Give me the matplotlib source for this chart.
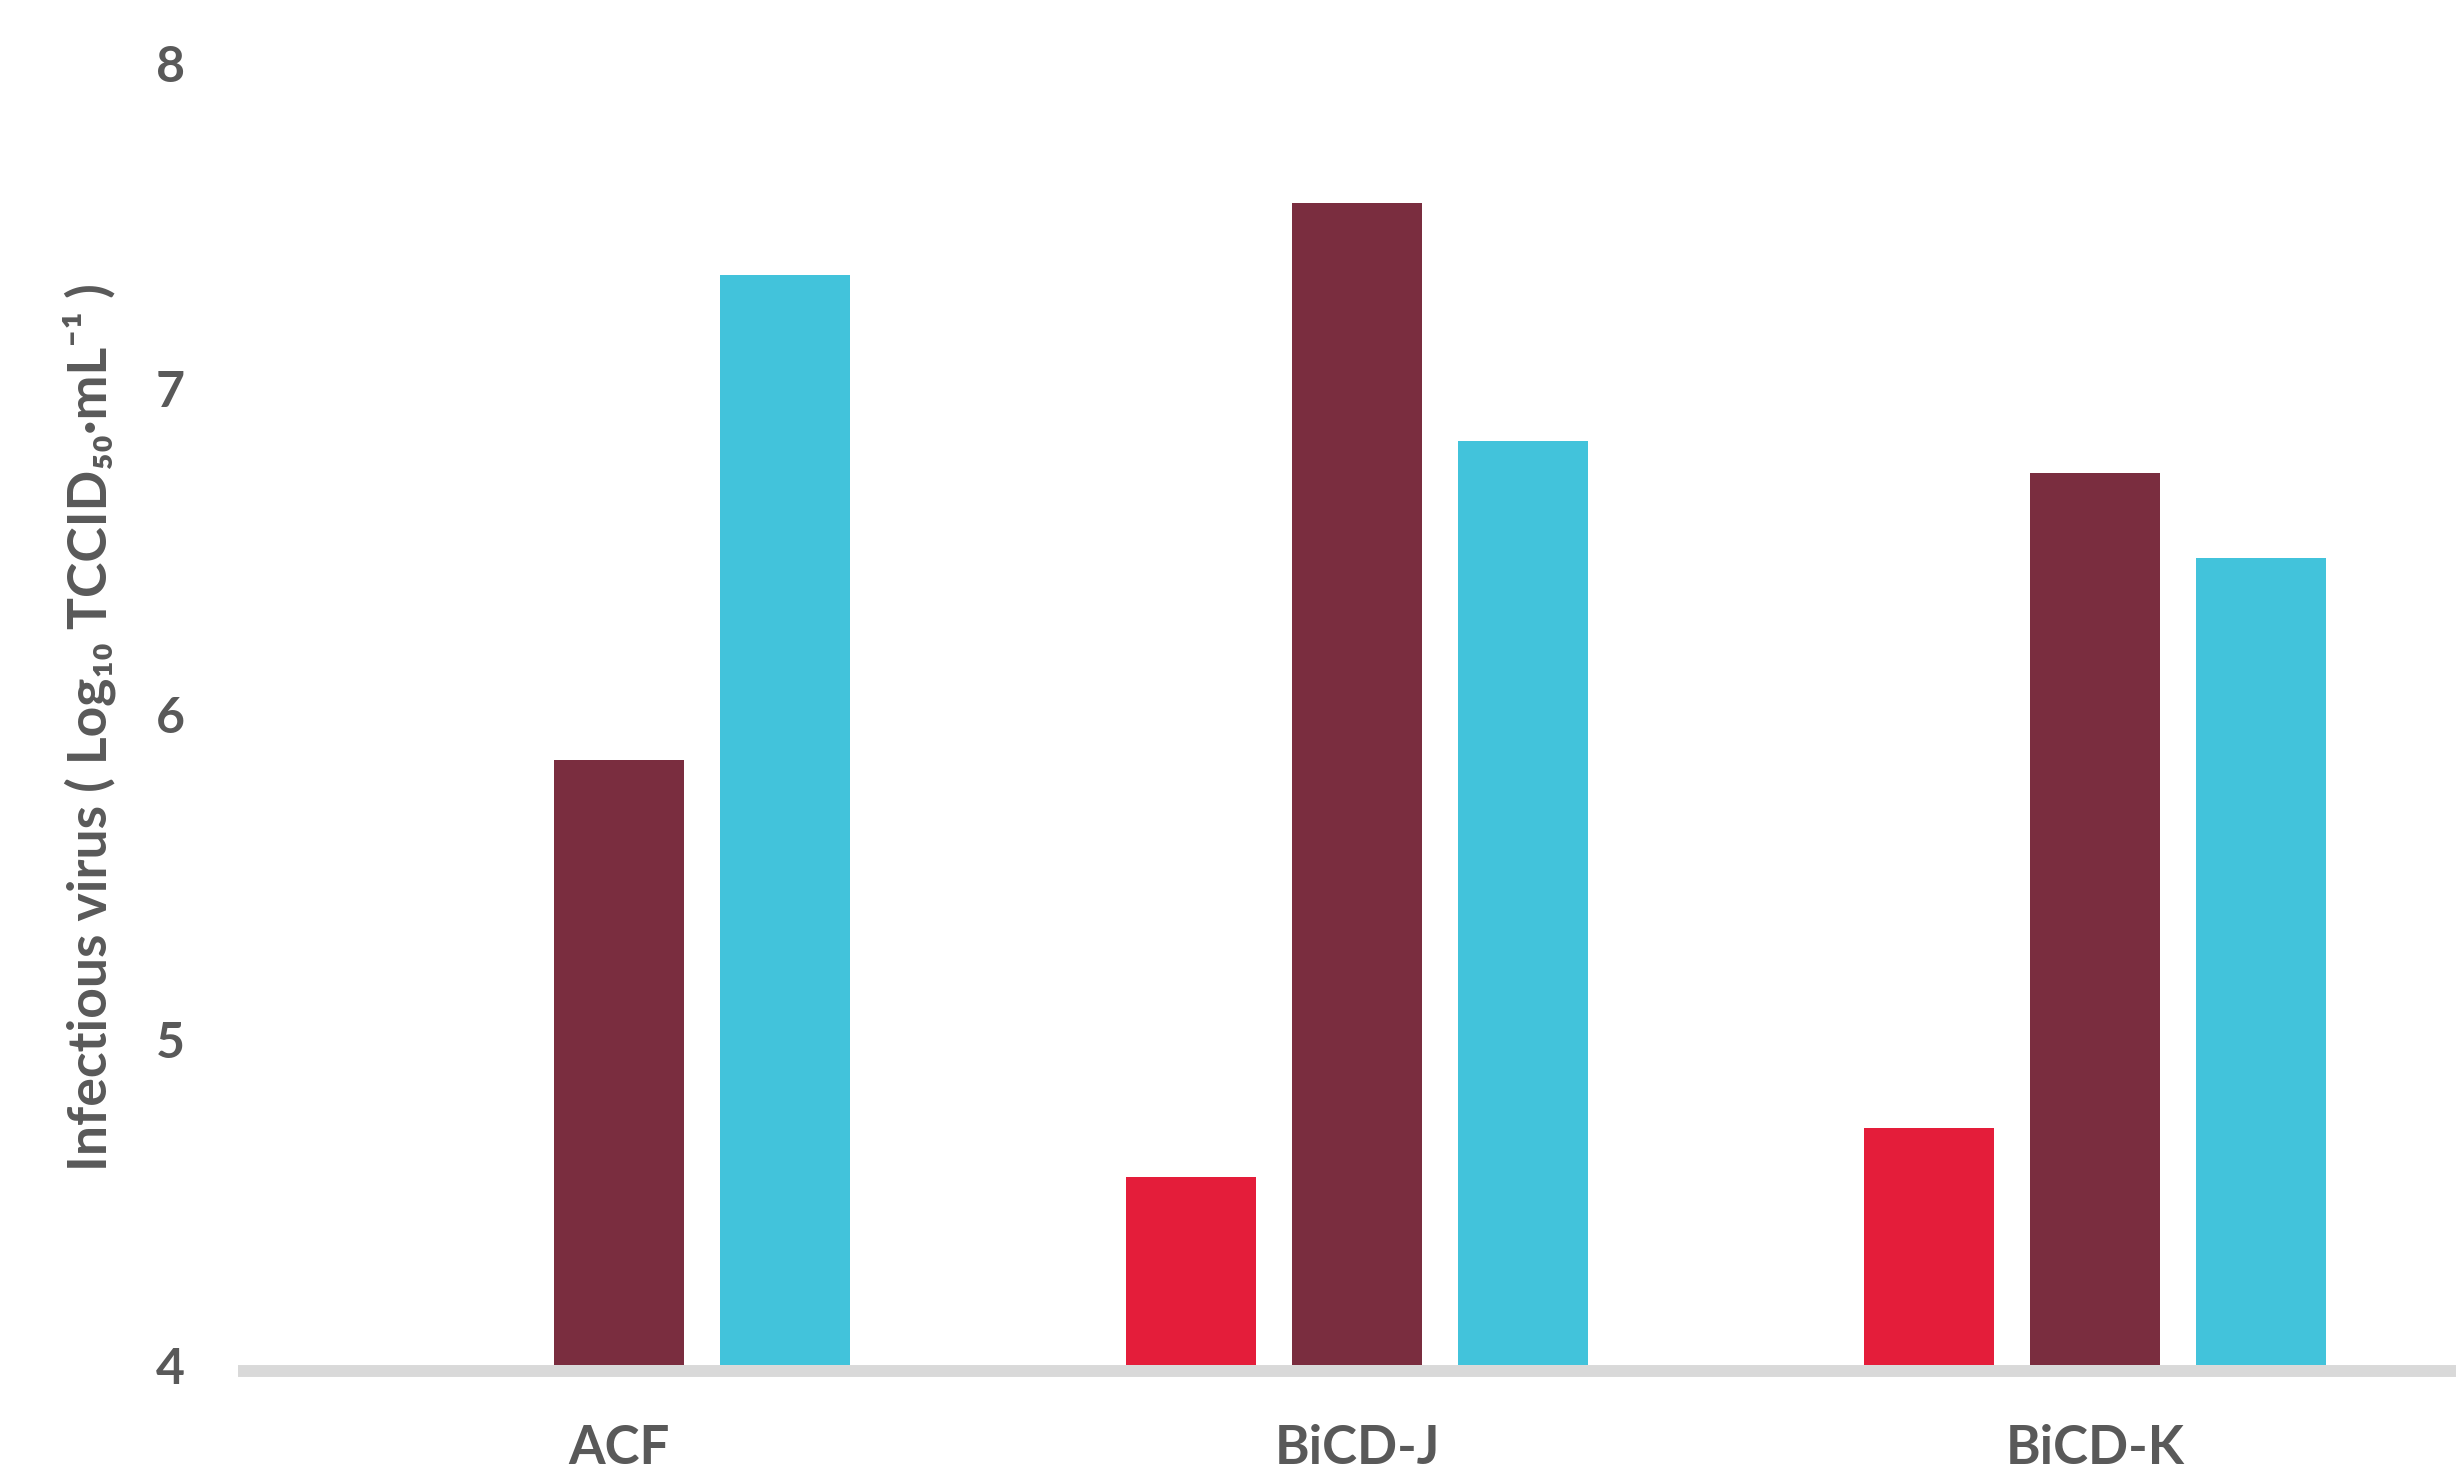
import matplotlib
matplotlib.use("Agg")
import matplotlib.pyplot as plt
import numpy as np

# data
categories = ["ACF", "BiCD-J", "BiCD-K"]
red_vals = [np.nan, 4.58, 4.73]
maroon_vals = [5.86, 7.57, 6.74]
cyan_vals = [7.35, 6.84, 6.48]
yticks = [4, 5, 6, 7, 8]

plt.rcParams['font.family'] = ['Lato', 'DejaVu Sans']
plt.rcParams['font.weight'] = 'bold'

text_col = '#595959'
fig = plt.figure(figsize=(24.56, 14.76), dpi=100)
ax = fig.add_axes([0.0969, 0.0749, 0.9031, 0.8824])

x = np.arange(len(categories))
w = 0.176
off = 0.225
ax.bar(x - off, red_vals, w, color='#E41D3A', zorder=2)
ax.bar(x, maroon_vals, w, color='#7A2D3F', zorder=2)
ax.bar(x + off, cyan_vals, w, color='#42C3DB', zorder=2)

ax.set_ylim(4, 8)
ax.set_xlim(-0.516, 2.489)
ax.set_yticks(yticks)
ax.set_xticks(x)
ax.set_xticklabels(categories)

for s in ['top', 'right', 'left']:
    ax.spines[s].set_visible(False)
# thick light grey base line
ax.spines['bottom'].set_color('#D9D9D9')
ax.spines['bottom'].set_linewidth(8.6)
ax.spines['bottom'].set_capstyle('butt')
ax.spines['bottom'].set_position(('outward', 4.3))

ax.tick_params(axis='both', length=0, colors=text_col)
ax.tick_params(axis='y', labelsize=36, pad=38)
ax.tick_params(axis='x', labelsize=38, pad=38)
for lab in ax.get_xticklabels() + ax.get_yticklabels():
    lab.set_fontweight('bold')

ax.set_ylabel("Infectious virus ( Log\u2081\u2080 TCCID\u2085\u2080\u00b7mL\u207b\u00b9 )",
              fontsize=38.5, fontweight='bold', color=text_col)
ax.yaxis.set_label_coords(-0.067, 0.49)
ax.yaxis.label.set_va('center')

fig.savefig("out.png", dpi=100)
